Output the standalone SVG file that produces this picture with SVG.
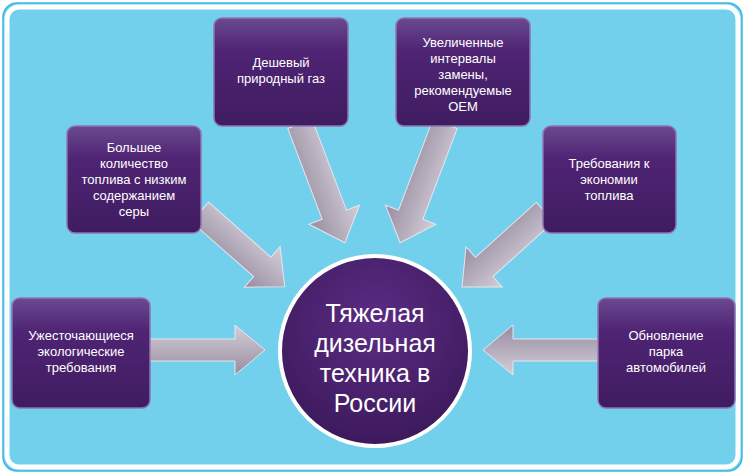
<svg xmlns="http://www.w3.org/2000/svg" width="745" height="474" viewBox="0 0 745 474">
<defs>
<linearGradient id="bx" x1="0" y1="0" x2="0" y2="1"><stop offset="0" stop-color="#6a4a90"/><stop offset="0.3" stop-color="#4f2474"/><stop offset="1" stop-color="#3f1c60"/></linearGradient>
<radialGradient id="cg" cx="0.5" cy="0.35" r="0.7"><stop offset="0" stop-color="#5b2c85"/><stop offset="1" stop-color="#3a1858"/></radialGradient>
<linearGradient id="ag" x1="0" y1="0" x2="0" y2="1"><stop offset="0" stop-color="#d4ced8"/><stop offset="1" stop-color="#978ca0"/></linearGradient>
<path id="arr" d="M0,-13 L-30,-13 L-30,-27 L0,0 L-30,27 L-30,13 Z"/>
</defs>
<style>
.box{fill:url(#bx);stroke:#8f74b0;stroke-width:1.5}
.t{font-family:"Liberation Sans",Arial,sans-serif;font-size:13px;fill:#fff;text-anchor:middle}
.a{fill:url(#ag);stroke:#e8e4ec;stroke-width:1}
</style>
<rect x="0" y="0" width="745" height="474" fill="#fff"/>
<rect x="3" y="3" width="739" height="468" rx="14" fill="#72d0ec" stroke="#3cb8e0" stroke-width="1.5"/>
<rect x="7" y="7" width="731" height="460" rx="12" fill="none" stroke="#fff" stroke-width="5"/>
<g id="connectors">
<g transform="translate(150,350)"><path class="a" d="M0,-11 L85,-11 L85,-25 L115,0 L85,25 L85,11 L0,11 Z"/></g>
<g transform="translate(598,350) rotate(180)"><path class="a" d="M0,-11 L85,-11 L85,-25 L115,0 L85,25 L85,11 L0,11 Z"/></g>
<g transform="translate(200,212) rotate(41.4)"><path class="a" d="M0,-13 L83,-13 L83,-27 L113,0 L83,27 L83,13 L0,13 Z"/></g>
<g transform="translate(300,124) rotate(69.3)"><path class="a" d="M0,-13 L97,-13 L97,-27 L127,0 L97,27 L97,13 L0,13 Z"/></g>
<g transform="translate(445,124) rotate(110.7)"><path class="a" d="M0,-13 L97,-13 L97,-27 L127,0 L97,27 L97,13 L0,13 Z"/></g>
<g transform="translate(545,212) rotate(137.9)"><path class="a" d="M0,-13 L82,-13 L82,-27 L112,0 L82,27 L82,13 L0,13 Z"/></g>
</g>
<g id="center">
<circle cx="375" cy="351" r="95" fill="url(#cg)" stroke="#fff" stroke-width="4"/>
<text class="t" style="font-size:25px" x="375" y="322">Тяжелая</text>
<text class="t" style="font-size:25px" x="375" y="352">дизельная</text>
<text class="t" style="font-size:25px" x="375" y="382">техника в</text>
<text class="t" style="font-size:25px" x="375" y="412">России</text>
</g>
<g id="n1"><rect class="box" x="12" y="298" width="138" height="110" rx="8"/>
<text class="t" x="81" y="340">Ужесточающиеся</text><text class="t" x="81" y="356">экологические</text><text class="t" x="81" y="372">требования</text></g>
<g id="n2"><rect class="box" x="67" y="126" width="134" height="107" rx="8"/>
<text class="t" x="134" y="152">Большее</text><text class="t" x="134" y="168">количество</text><text class="t" x="134" y="184">топлива с низким</text><text class="t" x="134" y="200">содержанием</text><text class="t" x="134" y="216">серы</text></g>
<g id="n3"><rect class="box" x="214" y="18" width="134" height="108" rx="8"/>
<text class="t" x="281" y="67">Дешевый</text><text class="t" x="281" y="83">природный газ</text></g>
<g id="n4"><rect class="box" x="396" y="18" width="134" height="108" rx="8"/>
<text class="t" x="463" y="47">Увеличенные</text><text class="t" x="463" y="63">интервалы</text><text class="t" x="463" y="79">замены,</text><text class="t" x="463" y="95">рекомендуемые</text><text class="t" x="463" y="111">OEM</text></g>
<g id="n5"><rect class="box" x="543" y="126" width="133" height="107" rx="8"/>
<text class="t" x="609" y="168">Требования к</text><text class="t" x="609" y="184">экономии</text><text class="t" x="609" y="200">топлива</text></g>
<g id="n6"><rect class="box" x="598" y="298" width="137" height="110" rx="8"/>
<text class="t" x="666" y="340">Обновление</text><text class="t" x="666" y="356">парка</text><text class="t" x="666" y="372">автомобилей</text></g>
</svg>
